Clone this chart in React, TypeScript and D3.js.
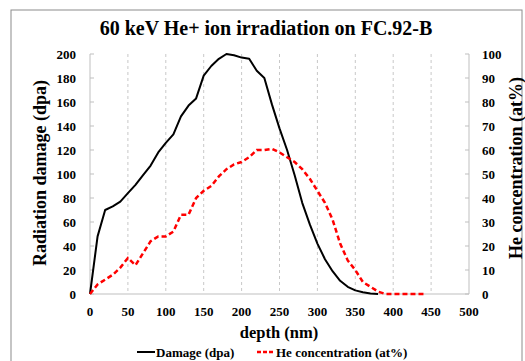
import React from "react";
import * as d3 from "d3";

const damageDepth = [0, 10, 20, 30, 40, 50, 60, 70, 80, 90, 100, 110, 120, 130, 140, 150, 160, 170, 180, 190, 200, 210, 220, 230, 240, 250, 260, 270, 280, 290, 300, 310, 320, 330, 340, 350, 360, 370, 380];
const damageValues = [0, 48, 70, 73, 77, 84, 91, 99, 107, 118, 126, 133, 148, 157, 163, 182, 190, 196, 200, 199, 197, 196, 186, 180, 158, 138, 120, 99, 76, 58, 42, 29, 19, 11, 6, 3, 1.5, 0.5, 0];

const heDepth = [0, 10, 20, 30, 40, 50, 60, 70, 80, 90, 100, 110, 120, 130, 140, 150, 160, 170, 180, 190, 200, 210, 220, 230, 240, 250, 260, 270, 280, 290, 300, 310, 320, 330, 340, 350, 360, 370, 380, 390, 400, 410, 420, 430, 440];
const heValues = [0, 4, 6, 8, 11, 15, 12, 17, 22, 24, 24, 26, 33, 33, 40, 43, 45, 49, 52, 54, 55, 57, 60, 60, 60.5, 59, 57, 55, 52, 48, 43, 38, 31, 21, 14, 10, 5, 3, 1, 0, 0, 0, 0, 0, 0];

const xTicks = [0, 50, 100, 150, 200, 250, 300, 350, 400, 450, 500];
const leftTicks = [0, 20, 40, 60, 80, 100, 120, 140, 160, 180, 200];
const rightTicks = [0, 10, 20, 30, 40, 50, 60, 70, 80, 90, 100];

const title = "60 keV He+ ion irradiation on FC.92-B";
const xTitle = "depth (nm)";
const yLeftTitle = "Radiation damage (dpa)";
const yRightTitle = "He concentration (at%)";
const legendLabels = ["Damage (dpa)", "He concentration (at%)"];

export default function App() {
  const W = 525, H = 361;
  const x0 = 90, x1 = 469, yTop = 54, yBot = 294;
  const x = d3.scaleLinear().domain([0, 500]).range([x0, x1]);
  const yL = d3.scaleLinear().domain([0, 200]).range([yBot, yTop]);
  const yR = d3.scaleLinear().domain([0, 100]).range([yBot, yTop]);
  const font = "'Liberation Serif', serif";

  const dmgLine = d3.line<number>().x((_, i) => x(damageDepth[i])).y((v) => yL(v));
  const heLine = d3.line<number>().x((_, i) => x(heDepth[i])).y((v) => yR(v));
  const ts = { fontFamily: font, fontWeight: "bold" } as React.CSSProperties;

  return (
    <svg width={W} height={H} style={{ position: "absolute", left: 0, top: 0, background: "#fff" }}>
      <rect x={11} y={10} width={511} height={360} fill="#fff" stroke="#8c8c8c" strokeWidth={1} />
      <text x={266} y={35} textAnchor="middle" style={{ ...ts, fontSize: 20 }}>{title}</text>
      {xTicks.filter((t) => t > 0 && t < 500).map((t) => (
        <line key={t} x1={x(t)} x2={x(t)} y1={yTop} y2={yBot} stroke="#c8c8c8" strokeDasharray="3,3" strokeWidth={1} />
      ))}
      <line x1={x0} x2={x0} y1={yTop} y2={yBot} stroke="#bfbfbf" />
      <line x1={x1} x2={x1} y1={yTop} y2={yBot} stroke="#bfbfbf" />
      <line x1={x0} x2={x1} y1={yBot} y2={yBot} stroke="#bfbfbf" />
      {leftTicks.map((t) => (
        <g key={t}>
          <line x1={x0} x2={x0 + 4} y1={yL(t)} y2={yL(t)} stroke="#bfbfbf" />
          <text x={76} y={yL(t) + 4.5} textAnchor="end" style={{ ...ts, fontSize: 13 }}>{t}</text>
        </g>
      ))}
      {rightTicks.map((t) => (
        <g key={t}>
          <line x1={x1 - 4} x2={x1} y1={yR(t)} y2={yR(t)} stroke="#bfbfbf" />
          <text x={482} y={yR(t) + 4.5} textAnchor="start" style={{ ...ts, fontSize: 13 }}>{t}</text>
        </g>
      ))}
      {xTicks.map((t) => (
        <text key={t} x={x(t)} y={316} textAnchor="middle" style={{ ...ts, fontSize: 13 }}>{t}</text>
      ))}
      <text x={279} y={338} textAnchor="middle" style={{ ...ts, fontSize: 16.5 }}>{xTitle}</text>
      <text transform={`translate(46,173) rotate(-90)`} textAnchor="middle" style={{ ...ts, fontSize: 18 }}>{yLeftTitle}</text>
      <text transform={`translate(522,168) rotate(-90)`} textAnchor="middle" style={{ ...ts, fontSize: 18 }}>{yRightTitle}</text>
      <path d={dmgLine(damageValues) || ""} fill="none" stroke="#000" strokeWidth={2} strokeLinejoin="round" />
      <path d={heLine(heValues) || ""} fill="none" stroke="#ff0000" strokeWidth={2.5} strokeDasharray="5,3" />
      <line x1={137} x2={155} y1={352} y2={352} stroke="#000" strokeWidth={2} />
      <text x={156} y={356.5} style={{ ...ts, fontSize: 13 }}>{legendLabels[0]}</text>
      <line x1={257} x2={275} y1={352} y2={352} stroke="#ff0000" strokeWidth={2.5} strokeDasharray="4,2" />
      <text x={276} y={356.5} style={{ ...ts, fontSize: 13 }}>{legendLabels[1]}</text>
    </svg>
  );
}
